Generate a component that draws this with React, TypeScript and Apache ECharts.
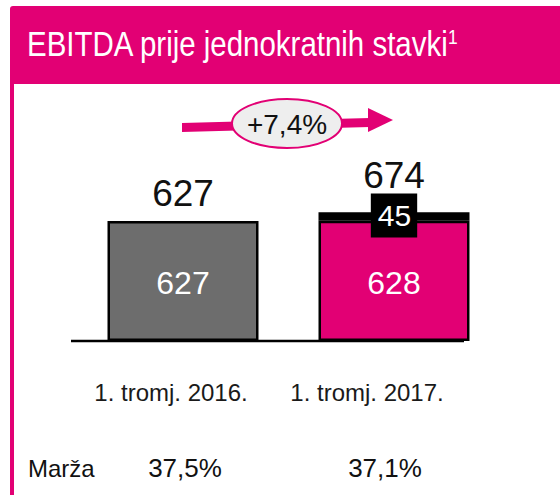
import React, { useEffect, useRef } from "react";
import * as echarts from "echarts";

const categories = ["1. tromj. 2016.", "1. tromj. 2017."];
const baseValues = [627, 628];
const incrementValues = [null, 45];
const totalValues = [627, 674];
const marginLabel = "Marža";
const marginValues = ["37,5%", "37,1%"];
const growthLabel = "+7,4%";
const titleText = "EBITDA prije jednokratnih stavki";
const titleNote = "1";

const MAGENTA = "#E20074";
const GREY = "#6d6d6d";
const SANS = "'Liberation Sans', Arial, sans-serif";

export default function App() {
  const ref = useRef<HTMLDivElement>(null);
  useEffect(() => {
    const chart = echarts.init(ref.current!, null, { renderer: "svg" });
    const barColors = [GREY, MAGENTA];
    const option: any = {
      animation: false,
      grid: { left: 77.5, right: 60.5, top: 149.6, bottom: 154 },
      xAxis: {
        type: "category",
        data: categories,
        axisLine: { show: false },
        axisTick: { show: false },
        axisLabel: {
          margin: 39,
          formatter: (v: string, i: number) => (i === 0 ? `{a|${v}}` : `{b|${v}}`),
          rich: {
            a: { fontSize: 24, fontFamily: SANS, color: "#1a1a1a", padding: [0, 24, 0, 0] },
            b: { fontSize: 24, fontFamily: SANS, color: "#1a1a1a", padding: [0, 54, 0, 0] },
          },
        },
      },
      yAxis: { type: "value", min: 0, max: 1000, show: false, splitLine: { show: false } },
      series: [
        {
          type: "bar",
          stack: "a",
          barWidth: 151,
          barGap: "-100%",
          data: baseValues.map((v, i) => ({ value: v, itemStyle: { color: barColors[i] } })),
          itemStyle: { borderColor: "#000", borderWidth: 2.5 },
          label: {
            show: true,
            position: "inside",
            color: "#fff",
            fontSize: 32,
            fontFamily: SANS,
            offset: [0, 2],
          },
        },
        {
          type: "bar",
          stack: "a",
          barWidth: 151,
          barGap: "-100%",
          data: incrementValues,
          itemStyle: { color: "#000", borderColor: "#000", borderWidth: 2.5 },
          label: {
            show: true,
            position: "inside",
            color: "#fff",
            fontSize: 30,
            fontFamily: SANS,
            backgroundColor: "#000",
            padding: [4, 6, 4, 7],
            lineHeight: 36,
            offset: [0, -1],
          },
        },
        {
          type: "bar",
          barWidth: 151,
          barGap: "-100%",
          silent: true,
          z: 1,
          data: totalValues.map((v, i) => ({
            value: v,
            label: { distance: i === 0 ? 9 : 18 },
          })),
          itemStyle: { color: "transparent" },
          label: {
            show: true,
            position: "top",
            color: "#111",
            fontSize: 37,
            fontFamily: SANS,
            lineHeight: 37,
          },
        },
      ],
      graphic: [
        { type: "rect", shape: { x: 10, y: 6, width: 550, height: 78, r: [3, 0, 0, 0] }, style: { fill: MAGENTA } },
        { type: "rect", shape: { x: 10, y: 84, width: 4, height: 411 }, style: { fill: MAGENTA } },
        {
          type: "text",
          x: 27,
          y: 43,
          scaleX: 0.83,
          style: { text: titleText, fill: "#fff", fontSize: 35.5, fontFamily: SANS, verticalAlign: "middle" },
        },
        {
          type: "text",
          x: 448,
          y: 27,
          scaleX: 0.87,
          style: { text: titleNote, fill: "#fff", fontSize: 20, fontFamily: SANS, verticalAlign: "top" },
        },
        { type: "line", shape: { x1: 71, y1: 341, x2: 464, y2: 341 }, style: { stroke: "#000", lineWidth: 2.5 } },
        {
          type: "polygon",
          shape: { points: [[182, 123], [370, 118], [370, 127], [182, 132]] },
          style: { fill: MAGENTA },
        },
        {
          type: "polygon",
          shape: { points: [[368, 108], [393, 120], [368, 132]] },
          style: { fill: MAGENTA },
        },
        {
          type: "ellipse",
          shape: { cx: 287, cy: 123.5, rx: 55, ry: 24.5 },
          style: { fill: "#eeeeee", stroke: MAGENTA, lineWidth: 2 },
        },
        {
          type: "text",
          x: 287,
          y: 124,
          style: { text: growthLabel, fill: "#111", fontSize: 28, fontFamily: SANS, align: "center", verticalAlign: "middle" },
        },
        {
          type: "text",
          x: 28,
          y: 468,
          style: { text: marginLabel, fill: "#111", fontSize: 24, fontFamily: SANS, verticalAlign: "middle" },
        },
        ...marginValues.map((m, i) => ({
          type: "text",
          x: [185, 385][i],
          y: 468,
          style: { text: m, fill: "#111", fontSize: 26, fontFamily: SANS, align: "center", verticalAlign: "middle" },
        })),
      ],
    };
    chart.setOption(option);
    return () => chart.dispose();
  }, []);
  return <div ref={ref} style={{ width: 560, height: 495, position: "absolute", left: 0, top: 0 }} />;
}
